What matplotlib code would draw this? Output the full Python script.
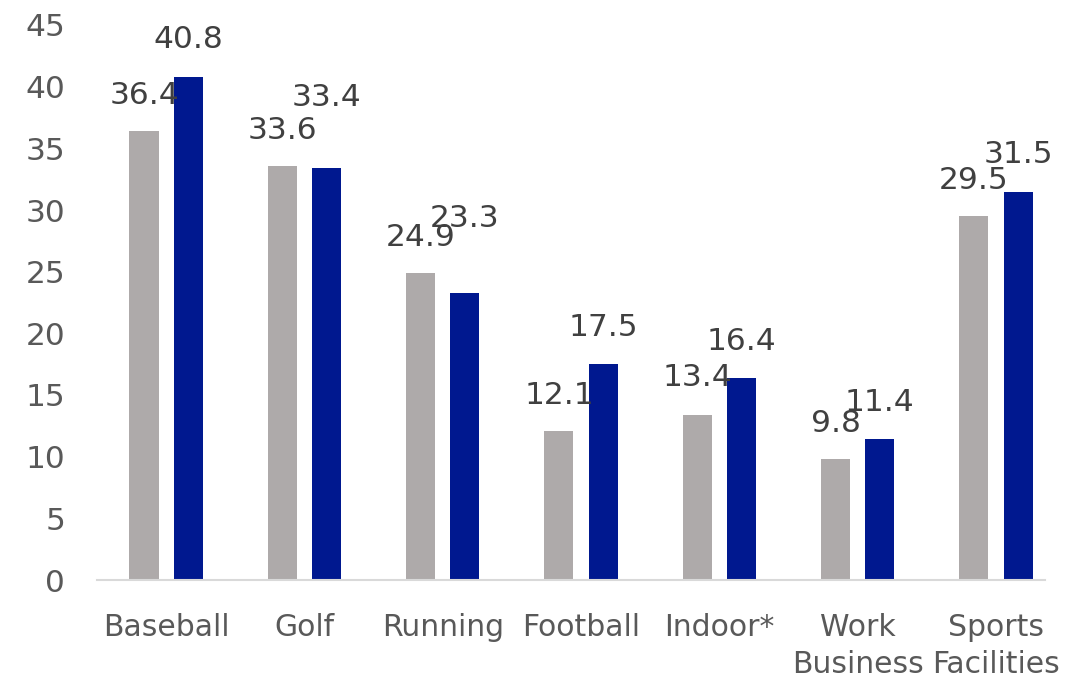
import matplotlib
matplotlib.use("Agg")
import matplotlib.pyplot as plt
import numpy as np

# data
categories = ["Baseball", "Golf", "Running", "Football", "Indoor*", "Work\nBusiness", "Sports\nFacilities"]
series_grey = [36.4, 33.6, 24.9, 12.1, 13.4, 9.8, 29.5]
series_blue = [40.8, 33.4, 23.3, 17.5, 16.4, 11.4, 31.5]

# how far above the bar top each label sits (pixels), as in the original
lift_grey = [36, 35, 35, 35, 37, 36, 36]
lift_blue = [37, 71, 74, 37, 36, 37, 37]

grey = "#AEAAAA"
blue = "#00188F"

fig = plt.figure(figsize=(10.84, 6.8), dpi=100)
ax = fig.add_axes([97 / 1084, 1 - 580 / 680, 948 / 1084, 555 / 680])

x = np.arange(len(categories))
w = 0.21
off = 0.16
b1 = ax.bar(x - off, series_grey, w, color=grey)
b2 = ax.bar(x + off, series_blue, w, color=blue)

# data labels, pixel offsets converted to points (dpi 100)
for bars, vals, lifts in ((b1, series_grey, lift_grey), (b2, series_blue, lift_blue)):
    for r, v, d in zip(bars, vals, lifts):
        ax.annotate(f"{v:.1f}", (r.get_x() + r.get_width() / 2, v),
                    xytext=(0, d * 0.72), textcoords="offset points",
                    ha="center", va="center", fontsize=22.5, color="#404040")

ax.set_xlim(-0.5, 6.355)
ax.set_ylim(0, 45)
ax.set_yticks(np.arange(0, 46, 5))
ax.set_xticks(x)
ax.set_xticklabels(categories, fontsize=21.5, color="#595959", linespacing=1.35)
ax.tick_params(axis="y", labelsize=22.5, labelcolor="#595959", length=0, pad=23)
ax.tick_params(axis="x", length=0, pad=24)

for s in ["top", "right", "left"]:
    ax.spines[s].set_visible(False)
ax.spines["bottom"].set_color("#D9D9D9")
ax.spines["bottom"].set_linewidth(1.5)

fig.savefig("out.png", dpi=100)
